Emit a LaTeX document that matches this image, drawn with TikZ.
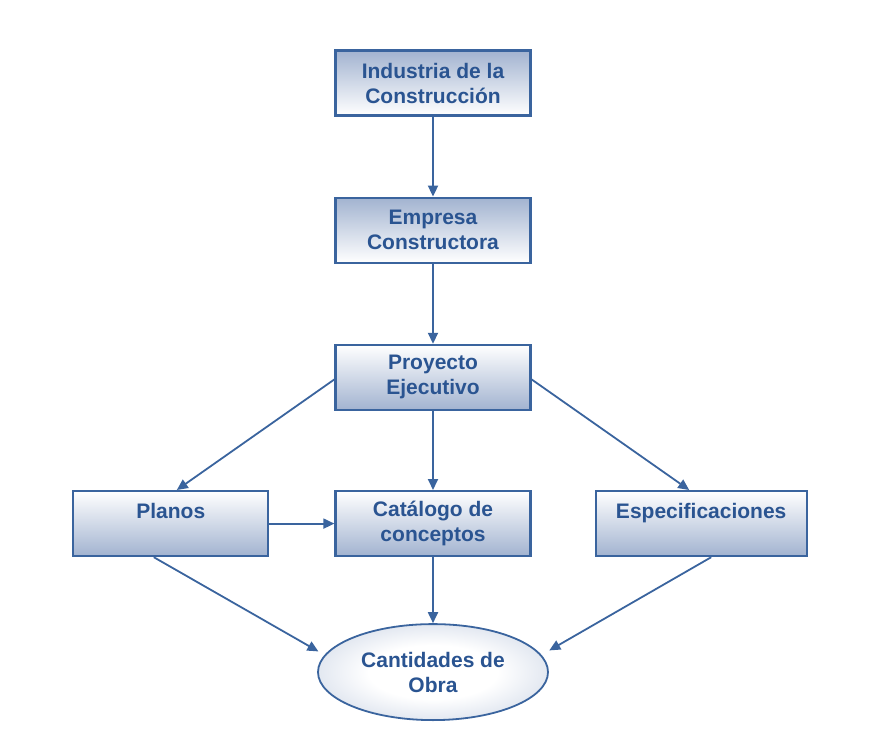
\documentclass[tikz,border=0pt]{standalone}
\usepackage{fontspec}
\setmainfont{Liberation Sans}
\usetikzlibrary{positioning, arrows.meta, shapes.geometric}

\definecolor{lineblue}{RGB}{58,100,158}
\definecolor{textblue}{RGB}{42,84,145}
\definecolor{shadeblue}{RGB}{162,179,208}

\pgfdeclareradialshading{ellshade}{\pgfpoint{0bp}{0bp}}{%
  color(0bp)=(white); color(14bp)=(white); color(50bp)=(shadeblue); color(60bp)=(shadeblue)}

\begin{document}
\begin{tikzpicture}[
  box/.style={
    rectangle, draw=lineblue, line width=2.2pt,
    minimum width=195pt, minimum height=65pt,
    align=center, text=textblue,
    font=\fontsize{21}{25}\selectfont\bfseries
  },
  topdark/.style={
    top color=shadeblue, bottom color=white
  },
  botdark/.style={
    top color=white, bottom color=shadeblue
  },
  result/.style={
    ellipse, draw=lineblue, line width=1.8pt,
    minimum width=230pt, minimum height=96pt, inner sep=0pt,
    shading=ellshade,
    align=center, text=textblue,
    font=\fontsize{21}{25}\selectfont\bfseries
  },
  arr/.style={
    -{Triangle[length=11pt,width=10pt]}, line width=1.8pt, color=lineblue
  }
]
\useasboundingbox (0,0) rectangle (870pt,-738pt);

% ================= Column: Industry to Project =================
\node[box, topdark] (Industria) at (433pt,-83pt) {Industria de la\\Construcción};
\node[box, topdark, below=80pt of Industria] (Empresa) {Empresa\\Constructora};
\node[box, botdark, below=80pt of Empresa] (Proyecto) {Proyecto\\Ejecutivo};

% ================= Row: Documents =================
\node[box, botdark, below=79pt of Proyecto] (Catalogo) {Catálogo de\\conceptos};
\node[box, botdark, left=65pt of Catalogo] (Planos) {Planos\\~};
\node[box, botdark, minimum width=211pt, right=63pt of Catalogo] (Especificaciones) {Especificaciones\\~};

% ================= Result =================
\node[result, below=66pt of Catalogo] (Cantidades) {Cantidades de\\Obra};

% ================= Connections =================
\draw[arr] (Industria) -- (Empresa);
\draw[arr] (Empresa) -- (Proyecto);
\draw[arr] (Proyecto) -- (Catalogo);
\draw[arr] ([yshift=-2pt]Proyecto.west) -- ([xshift=6pt]Planos.north);
\draw[arr] ([yshift=-2pt]Proyecto.east) -- ([xshift=-12pt]Especificaciones.north);
\draw[arr] (Planos) -- (Catalogo);

\draw[arr, shorten >=7pt] ([xshift=-17pt]Planos.south) -- (Cantidades.171);
\draw[arr] (Catalogo) -- (Cantidades);
\draw[arr, shorten >=9pt] ([xshift=10pt]Especificaciones.south) -- (Cantidades.9);

\end{tikzpicture}
\end{document}
